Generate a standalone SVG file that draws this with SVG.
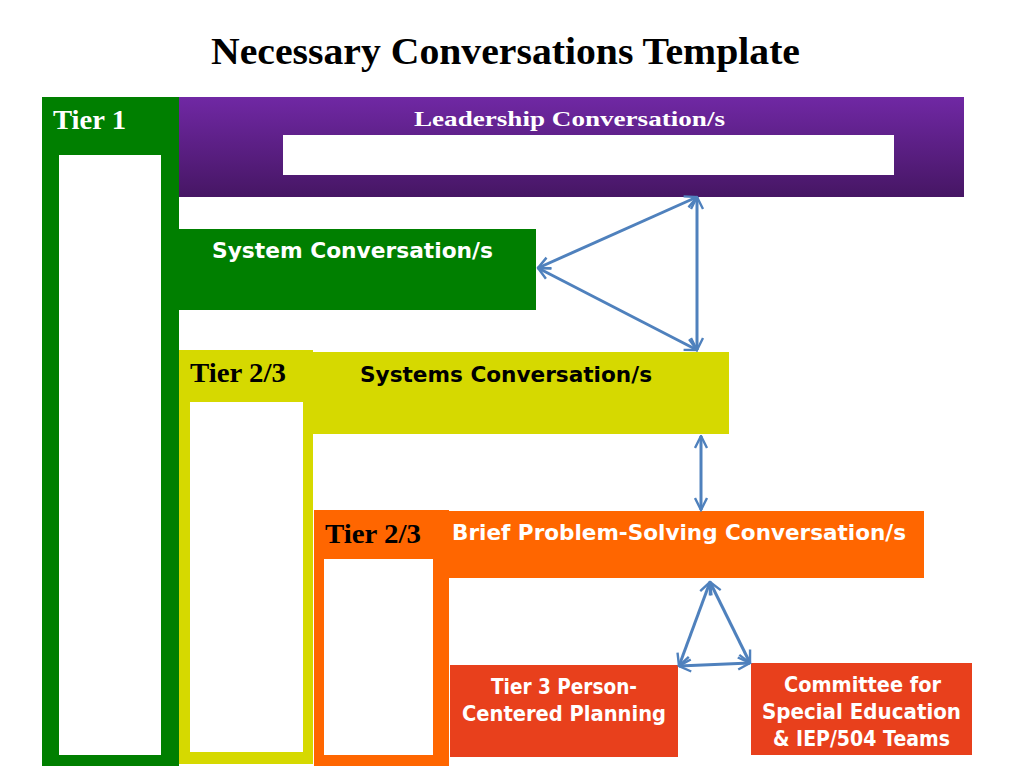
<svg xmlns="http://www.w3.org/2000/svg" width="1024" height="768" viewBox="0 0 1024 768">
<defs>
<linearGradient id="purp" x1="0" y1="0" x2="0" y2="1">
<stop offset="0" stop-color="#7028a4"/>
<stop offset="1" stop-color="#461664"/>
</linearGradient>
<marker id="ah" viewBox="0 0 10 10" refX="9" refY="5" markerWidth="5" markerHeight="5" orient="auto-start-reverse" markerUnits="strokeWidth">
<path d="M1,1 L9,5 L1,9" fill="none" stroke="#4f81bd" stroke-width="1.6"/>
</marker>
<style>
.serif{font-family:"Liberation Serif","Times New Roman",serif;font-weight:bold}
.sans{font-family:"DejaVu Sans","Liberation Sans",Arial,sans-serif;font-weight:bold}
.w{fill:#ffffff}
.k{fill:#000000}
.c{stroke:#4f81bd;stroke-width:3;fill:none;marker-start:url(#ah);marker-end:url(#ah)}
</style>
</defs>
<rect width="1024" height="768" fill="#ffffff"/>
<text class="serif k" x="211" y="64" font-size="37" textLength="589" lengthAdjust="spacingAndGlyphs">Necessary Conversations Template</text>

<g id="tier1">
<rect x="42" y="97" width="137" height="669" fill="#007f00"/>
<rect x="59" y="155" width="102" height="600" fill="#ffffff"/>
<text class="serif w" x="53" y="129" font-size="27" textLength="73" lengthAdjust="spacingAndGlyphs">Tier 1</text>
</g>

<g id="leadership">
<rect x="179" y="97" width="785" height="100" fill="url(#purp)"/>
<rect x="283" y="135" width="611" height="40" fill="#ffffff"/>
<text class="serif w" x="414" y="126" font-size="22" textLength="311" lengthAdjust="spacingAndGlyphs">Leadership Conversation/s</text>
</g>

<g id="system">
<rect x="179" y="229" width="357" height="81" fill="#007f00"/>
<text class="sans w" x="212" y="258" font-size="21" textLength="281" lengthAdjust="spacingAndGlyphs">System Conversation/s</text>
</g>

<g id="tier23a">
<rect x="179" y="350" width="134" height="414" fill="#d6d900"/>
<rect x="190" y="402" width="113" height="350" fill="#ffffff"/>
<text class="serif k" x="190" y="382" font-size="27" textLength="96" lengthAdjust="spacingAndGlyphs">Tier 2/3</text>
</g>

<g id="systems">
<rect x="313" y="352" width="416" height="82" fill="#d6d900"/>
<text class="sans k" x="360" y="382" font-size="21" textLength="292" lengthAdjust="spacingAndGlyphs">Systems Conversation/s</text>
</g>

<g id="tier23b">
<rect x="314" y="510" width="135" height="256" fill="#ff6600"/>
<rect x="324" y="559" width="109" height="196" fill="#ffffff"/>
<text class="serif k" x="325" y="543" font-size="27" textLength="96" lengthAdjust="spacingAndGlyphs">Tier 2/3</text>
</g>

<g id="brief">
<rect x="433" y="511" width="491" height="67" fill="#ff6600"/>
<text class="sans w" x="452" y="540" font-size="21" textLength="454" lengthAdjust="spacingAndGlyphs">Brief Problem-Solving Conversation/s</text>
</g>

<g id="person">
<rect x="450" y="665" width="228" height="92" fill="#e8401c"/>
<text class="sans w" x="491" y="694" font-size="21" textLength="146" lengthAdjust="spacingAndGlyphs">Tier 3 Person-</text>
<text class="sans w" x="462" y="721" font-size="21" textLength="204" lengthAdjust="spacingAndGlyphs">Centered Planning</text>
</g>

<g id="committee">
<rect x="751" y="663" width="221" height="92" fill="#e8401c"/>
<text class="sans w" x="784" y="692" font-size="21" textLength="157" lengthAdjust="spacingAndGlyphs">Committee for</text>
<text class="sans w" x="762" y="719" font-size="21" textLength="199" lengthAdjust="spacingAndGlyphs">Special Education</text>
<text class="sans w" x="773" y="746" font-size="21" textLength="177" lengthAdjust="spacingAndGlyphs">&amp; IEP/504 Teams</text>
</g>

<g id="connectors">
<line class="c" x1="697" y1="197" x2="538" y2="268"/>
<line class="c" x1="538" y1="268" x2="697" y2="350"/>
<line class="c" x1="697" y1="197" x2="697" y2="350"/>
<line class="c" x1="701" y1="436" x2="701" y2="510"/>
<line class="c" x1="710" y1="582" x2="679" y2="666"/>
<line class="c" x1="710" y1="582" x2="750" y2="663"/>
<line class="c" x1="679" y1="666" x2="750" y2="663"/>
</g>
</svg>
